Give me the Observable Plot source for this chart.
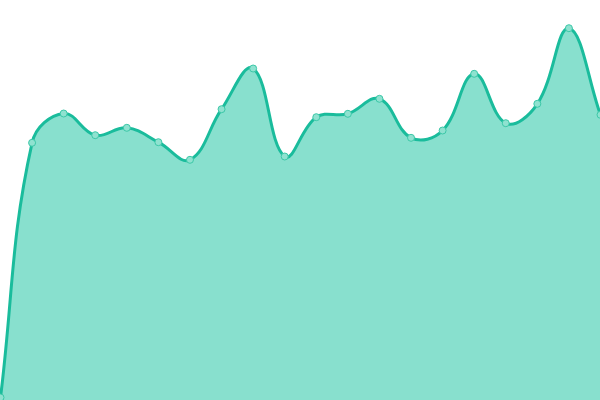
<!DOCTYPE html>
<html>
<head>
<meta charset="utf-8">
<script src="https://cdn.jsdelivr.net/npm/d3@7"></script>
<script src="https://cdn.jsdelivr.net/npm/@observablehq/plot@0.6"></script>
<style>
  html, body { margin: 0; padding: 0; background: #ffffff; }
  #chart svg { display: block; overflow: visible; }
</style>
</head>
<body>
<div id="chart"></div>
<script>
const indices = d3.range(20);
const values = [3, 257.7, 287, 265.3, 272.7, 258.3, 240.7, 291.3, 332, 244,
                283.3, 286.7, 301.7, 262.7, 270, 326.7, 277.3, 296.7, 372.3, 285.7];

const data = indices.map((i) => ({x: i, y: values[i]}));

const W = 600, H = 400, TENSION = 0.4;

// Spline curve with distance-weighted control points (tension 0.4), capped to the plot area
class WeightedSpline {
  constructor(context) { this._context = context; }
  areaStart() { this._line = 0; }
  areaEnd() { this._line = NaN; }
  lineStart() { this._x = []; this._y = []; }
  point(x, y) { this._x.push(+x); this._y.push(+y); }
  lineEnd() {
    const X = this._x, Y = this._y, n = X.length, c = this._context;
    if (n) {
      if (this._line) c.lineTo(X[0], Y[0]); else c.moveTo(X[0], Y[0]);
      if (n === 2) c.lineTo(X[1], Y[1]);
      else if (n > 2) {
        const cpP = [], cpN = [];
        const clampX = (v) => Math.max(0, Math.min(W, v));
        const clampY = (v) => Math.max(0, Math.min(H, v));
        for (let i = 0; i < n; ++i) {
          const p = i > 0 ? i - 1 : i, q = i < n - 1 ? i + 1 : i;
          const d01 = Math.hypot(X[i] - X[p], Y[i] - Y[p]);
          const d12 = Math.hypot(X[q] - X[i], Y[q] - Y[i]);
          let s01 = d01 / (d01 + d12), s12 = d12 / (d01 + d12);
          if (!isFinite(s01)) s01 = 0;
          if (!isFinite(s12)) s12 = 0;
          const fa = TENSION * s01, fb = TENSION * s12;
          cpP.push([clampX(X[i] - fa * (X[q] - X[p])), clampY(Y[i] - fa * (Y[q] - Y[p]))]);
          cpN.push([clampX(X[i] + fb * (X[q] - X[p])), clampY(Y[i] + fb * (Y[q] - Y[p]))]);
        }
        for (let i = 1; i < n; ++i) {
          c.bezierCurveTo(cpN[i - 1][0], cpN[i - 1][1], cpP[i][0], cpP[i][1], X[i], Y[i]);
        }
      }
    }
    if (this._line || (this._line !== 0 && n === 1)) c.closePath();
    this._line = 1 - this._line;
  }
}
const weightedSpline = (context) => new WeightedSpline(context);

const chart = Plot.plot({
  width: W,
  height: H,
  margin: 0,
  x: {domain: [0, 19], axis: null},
  y: {domain: [0, 400], axis: null},
  marks: [
    Plot.areaY(data, {x: "x", y: "y", curve: weightedSpline, fill: "#88e0ce"}),
    Plot.lineY(data, {x: "x", y: "y", curve: weightedSpline, stroke: "#1abc9c", strokeWidth: 3}),
    Plot.dot(data, {x: "x", y: "y", r: 3.5, fill: "#8fe2d0", stroke: "#3cc8a8", strokeWidth: 1})
  ]
});
document.getElementById("chart").appendChild(chart);
</script>
</body>
</html>
